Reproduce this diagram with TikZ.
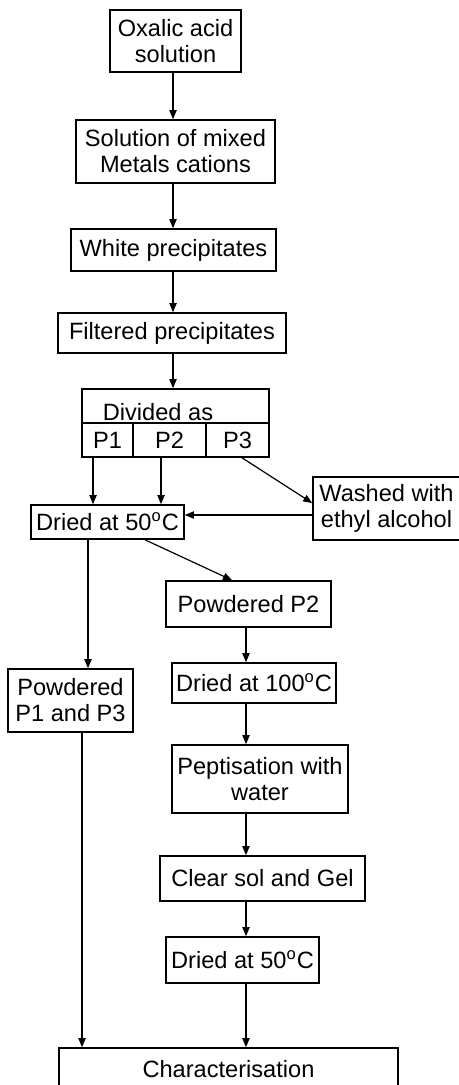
\documentclass[tikz,border=0pt]{standalone}
\usepackage{fontspec}
\setmainfont{Liberation Sans}
\usetikzlibrary{arrows.meta}

\begin{document}
\begin{tikzpicture}[
    x=0.5pt, y=-0.5pt,
    txt/.style={font=\fontsize{11.8}{13}\selectfont},
    box/.style={txt, draw, line width=0.8pt, inner sep=0pt, align=center},
    sz/.style 2 args={minimum width=#1*0.5pt, minimum height=#2*0.5pt},
    arr/.style={-{Triangle[length=4.5pt, width=3.6pt]}, line width=0.6pt}
  ]
  \useasboundingbox (0,0) rectangle (459,1085);
  % columns used by the connectors
  \coordinate (colM) at (173,0);
  \coordinate (colA) at (93,0);
  \coordinate (colB) at (161,0);
  \coordinate (colL) at (88,0);
  \coordinate (colR) at (246,0);
  \coordinate (colE) at (82,0);
  % main chain
  \node[box, sz={131}{62}] (oxalic) at (175.5,41) {Oxalic acid\\solution};
  \node[box, sz={199}{63}] (mixed) at (175.5,151.5) {Solution of mixed\\Metals cations};
  \node[box, sz={205}{42}] (white) at (173.5,250) {White precipitates};
  \node[box, sz={228}{40}] (filtered) at (172,333) {Filtered precipitates};
  \node[box, sz={187}{34}] (divided) at (175.5,406) {};
  \node[txt, inner sep=0pt] (divtext) at (158,412) {Divided as};
  \node[box, sz={51}{34}] (pone) at (107.5,440) {P1};
  \node[box, sz={73}{34}] (ptwo) at (169.5,440) {P2};
  \node[box, sz={63}{34}] (pthree) at (237.5,440) {P3};
  \node[box, sz={147}{63}] (washed) at (386.5,508.5) {Washed with\\ethyl alcohol};
  \node[box, sz={153}{34}] (driedA) at (107.5,522) {Dried at 50\textsuperscript{o}C};
  % right branch
  \node[box, sz={165}{46}] (powtwo) at (248.5,604) {Powdered P2};
  \node[box, sz={164}{40}] (driedB) at (254,683) {Dried at 100\textsuperscript{o}C};
  \node[box, sz={176}{68}] (peptis) at (260,779) {Peptisation with\\water};
  \node[box, sz={205}{45}] (clear) at (262.5,878.5) {Clear sol and Gel};
  \node[box, sz={153}{46}] (driedC) at (242.5,960) {Dried at 50\textsuperscript{o}C};
  % left branch and end
  \node[box, sz={125}{63}] (powrest) at (70.5,700.5) {Powdered\\P1 and P3};
  \node[box, sz={339}{42}] (charac) at (228.5,1069) {Characterisation};

  \draw[arr] (oxalic.south -| colM) -- (mixed.north -| colM);
  \draw[arr] (mixed.south -| colM) -- (white.north -| colM);
  \draw[arr] (white.south -| colM) -- (filtered.north -| colM);
  \draw[arr] (filtered.south -| colM) -- (divided.north -| colM);
  \draw[arr] (pone.south -| colA) -- (driedA.north -| colA);
  \draw[arr] (ptwo.south -| colB) -- (driedA.north -| colB);
  \draw[arr] ([xshift=2.25pt]pthree.south) -- ([yshift=2.75pt]washed.west);
  \draw[arr] ([yshift=-3.25pt]washed.west) -- ([yshift=-3.25pt]washed.west -| driedA.east);
  \draw[arr] (driedA.south -| colL) -- (powrest.north -| colL);
  \draw[arr] ([xshift=18.75pt]driedA.south) -- ([xshift=-8.25pt]powtwo.north);
  \draw[arr] (powtwo.south -| colR) -- (driedB.north -| colR);
  \draw[arr] (driedB.south -| colR) -- (peptis.north -| colR);
  \draw[arr] (peptis.south -| colR) -- (clear.north -| colR);
  \draw[arr] (clear.south -| colR) -- (driedC.north -| colR);
  \draw[arr] (driedC.south -| colR) -- (charac.north -| colR);
  \draw[arr] (powrest.south -| colE) -- (charac.north -| colE);
\end{tikzpicture}
\end{document}
